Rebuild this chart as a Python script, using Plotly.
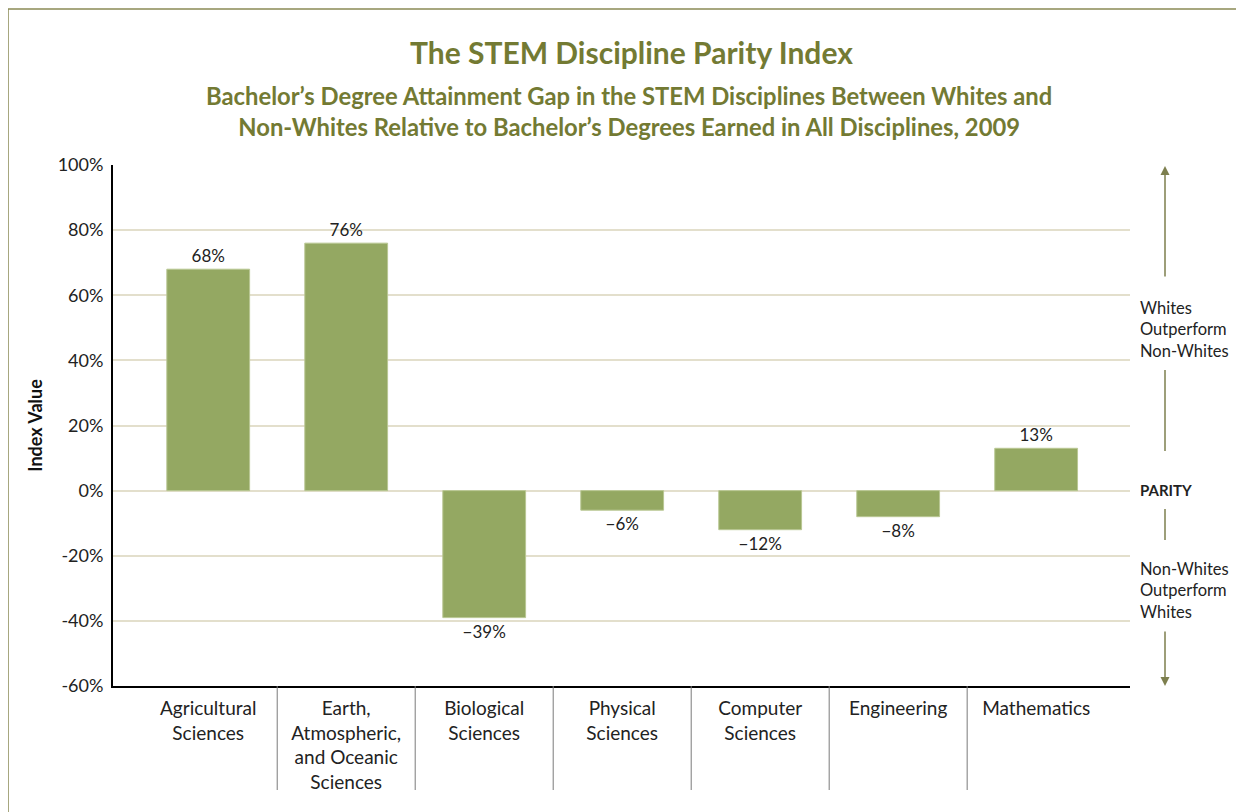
import plotly.graph_objects as go

categories = [
    "Agricultural<br>Sciences",
    "Earth,<br>Atmospheric,<br>and Oceanic<br>Sciences",
    "Biological<br>Sciences",
    "Physical<br>Sciences",
    "Computer<br>Sciences",
    "Engineering",
    "Mathematics",
]
index_values = [68, 76, -39, -6, -12, -8, 13]
y_ticks = [-60, -40, -20, 0, 20, 40, 60, 80, 100]
y_tick_labels = [f"{t}%" for t in y_ticks]

OLIVE = "#737a33"
BAR = "#94a862"
GRID = "#e3dfcc"
FONT = "Lato, 'Open Sans', sans-serif"

# page offsets the figure by 8px, so work in screenshot pixels and shift
OFF = 8
# plot area in screenshot pixels: x 113..1130, y 165..686
L, R, T, B = 113, 1130, 165, 686


def px(x):
    return (x - L) / (R - L)


def py(y):
    return (B - y) / (B - T)


bar_labels = [f"{v}%".replace("-", "\u2212") for v in index_values]

fig = go.Figure()
fig.add_trace(
    go.Bar(
        x=categories,
        y=index_values,
        width=0.6,
        marker_color=BAR,
        marker_line_color="#b9c793",
        marker_line_width=1,
        text=bar_labels,
        textposition="outside",
        textfont=dict(size=17, color="#222222", family=FONT),
        cliponaxis=False,
    )
)

# vertical separators between category labels
for i in range(len(categories) - 1):
    fig.add_shape(
        type="line", xref="x", yref="paper",
        x0=i + 0.5, x1=i + 0.5, y0=0, y1=py(790),
        line=dict(color="#7a7a7a", width=1),
    )

# outer frame (top and left edges only are visible)
frame = dict(color="#8a8a55", width=1.5)
fig.add_shape(type="line", xref="paper", yref="paper",
              x0=px(8), x1=px(1300), y0=py(9), y1=py(9), line=frame)
fig.add_shape(type="line", xref="paper", yref="paper",
              x0=px(8), x1=px(8), y0=py(9), y1=py(860), line=frame)

# right side arrows
ax_x = px(1165)
fig.add_annotation(
    xref="paper", yref="paper", x=ax_x, y=py(166), ax=0, ay=112, text="",
    showarrow=True, arrowhead=2, arrowsize=1.2, arrowwidth=1.5, arrowcolor="#7d7f4e",
)
fig.add_annotation(
    xref="paper", yref="paper", x=ax_x, y=py(686), ax=0, ay=-56, text="",
    showarrow=True, arrowhead=2, arrowsize=1.2, arrowwidth=1.5, arrowcolor="#7d7f4e",
)
for y0, y1 in [(370, 451), (509, 540)]:
    fig.add_shape(
        type="line", xref="paper", yref="paper",
        x0=ax_x, x1=ax_x, y0=py(y0), y1=py(y1),
        line=dict(color="#7d7f4e", width=1.5),
    )

side_font = dict(size=16.5, color="#222222", family=FONT)
fig.add_annotation(
    xref="paper", yref="paper", x=px(1138), y=py(329), xanchor="left", yanchor="middle",
    text="Whites<br>Outperform<br>Non-Whites", showarrow=False, align="left", font=side_font,
)
fig.add_annotation(
    xref="paper", yref="paper", x=px(1138), y=py(490), xanchor="left", yanchor="middle",
    text="<b>PARITY</b>", showarrow=False, align="left", font=dict(size=15, color="#222222", family=FONT),
)
fig.add_annotation(
    xref="paper", yref="paper", x=px(1138), y=py(590), xanchor="left", yanchor="middle",
    text="Non-Whites<br>Outperform<br>Whites", showarrow=False, align="left", font=side_font,
)

# titles
fig.add_annotation(
    xref="paper", yref="paper", x=px(631), y=py(52), xanchor="center", yanchor="middle",
    text="<b>The STEM Discipline Parity Index</b>", showarrow=False,
    font=dict(size=30, color=OLIVE, family=FONT),
)
fig.add_annotation(
    xref="paper", yref="paper", x=px(629), y=py(111), xanchor="center", yanchor="middle",
    text="<b>Bachelor\u2019s Degree Attainment Gap in the STEM Disciplines Between Whites and<br>"
         "Non-Whites Relative to Bachelor\u2019s Degrees Earned in All Disciplines, 2009</b>",
    showarrow=False, font=dict(size=23.8, color=OLIVE, family=FONT),
)

fig.update_layout(
    width=1244,
    height=812,
    margin=dict(l=L - OFF, r=1244 - R + OFF, t=T - OFF, b=812 - B + OFF),
    plot_bgcolor="white",
    paper_bgcolor="white",
    showlegend=False,
    font=dict(family=FONT, color="#222222"),
)
fig.update_xaxes(
    range=[-0.69, 6.68],
    showline=True, linecolor="black", linewidth=2,
    ticks="", showgrid=False,
    ticklabelstandoff=4,
    tickfont=dict(size=19, color="#222222", family=FONT),
)
fig.update_yaxes(
    range=[-60, 100],
    tickvals=y_ticks, ticktext=y_tick_labels,
    showline=True, linecolor="black", linewidth=2,
    showgrid=True, gridcolor=GRID, gridwidth=2,
    zeroline=True, zerolinecolor=GRID, zerolinewidth=2,
    ticks="", ticklen=0,
    ticklabelstandoff=4,
    tickfont=dict(size=18, color="#222222", family=FONT),
    title=dict(text="<b>Index Value</b>", font=dict(size=18, color="#111111", family=FONT), standoff=10),
)

fig.write_html("out.html")
